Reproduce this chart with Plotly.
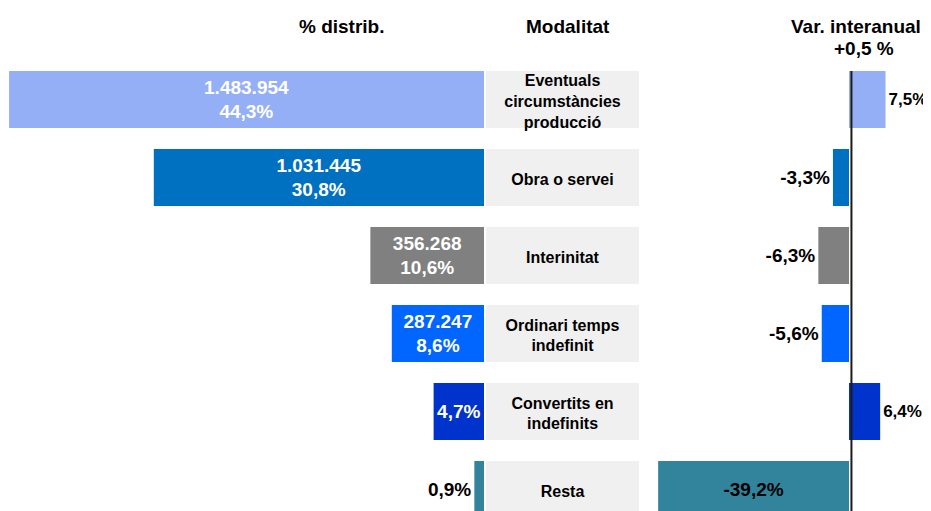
import plotly.graph_objects as go

# Data
modalities = ["Eventuals<br>circumstàncies<br>producció", "Obra o servei", "Interinitat",
              "Ordinari temps<br>indefinit", "Convertits en<br>indefinits", "Resta"]
contracts = [1483954, 1031445, 356268, 287247, None, None]
share_pct = [44.3, 30.8, 10.6, 8.6, 4.7, 0.9]
var_pct = [7.5, -3.3, -6.3, -5.6, 6.4, -39.2]
total_var = 0.5

colors = ["#95AFF7", "#0070C0", "#808080", "#0066FF", "#0033CC", "#31849B"]

FONT = "Liberation Sans, Arial, sans-serif"
BAR_W = 0.73
LABEL_DY = 0.045  # nudge label text to the visual centre of the grey box
rows = list(range(len(modalities)))
Y_RANGE = [5.276, -0.506]


def pct(v):
    return f"{v:.1f}".replace(".", ",") + "%"


def thousands(n):
    return f"{n:,}".replace(",", ".")


left_text = []
for n, s in zip(contracts, share_pct):
    left_text.append(f"{thousands(n)}<br>{pct(s)}" if n else pct(s))

left_pos = ["inside" if s > 2 else "outside" for s in share_pct]
right_pos = ["inside" if abs(v) > 20 else "outside" for v in var_pct]
# positive labels sit against the right edge of the page, keep them a touch smaller
right_sizes = [17 if v > 0 else 19 for v in var_pct]

fig = go.Figure()

# Left: distribution share (bars grow to the left)
fig.add_trace(go.Bar(
    x=share_pct, y=rows, orientation="h", width=BAR_W,
    marker=dict(color=colors, line_width=0),
    text=left_text, textposition=left_pos, insidetextanchor="middle",
    insidetextfont=dict(color="white", size=19, family=FONT, weight="bold"),
    outsidetextfont=dict(color="black", size=19, family=FONT, weight="bold"),
    cliponaxis=False, hoverinfo="skip",
    xaxis="x", yaxis="y",
))

# Middle: grey label boxes
fig.add_trace(go.Bar(
    x=[1] * len(rows), y=rows, orientation="h", width=BAR_W,
    marker=dict(color="#F0F0F0", line_width=0),
    hoverinfo="skip", xaxis="x2", yaxis="y",
))
fig.add_trace(go.Scatter(
    x=[0.5] * len(rows), y=[r + LABEL_DY for r in rows], mode="text", text=modalities,
    textposition="middle center",
    textfont=dict(color="black", size=16, family=FONT, weight="bold"),
    hoverinfo="skip", xaxis="x2", yaxis="y",
))

# Right: year-on-year variation
fig.add_trace(go.Bar(
    x=var_pct, y=rows, orientation="h", width=BAR_W,
    marker=dict(color=colors, line_width=0),
    text=[pct(v) for v in var_pct], textposition=right_pos, insidetextanchor="middle",
    insidetextfont=dict(color="black", size=19, family=FONT, weight="bold"),
    outsidetextfont=dict(color="black", size=right_sizes, family=FONT, weight="bold"),
    cliponaxis=False, hoverinfo="skip",
    xaxis="x3", yaxis="y",
))

# reference line at total variation
fig.add_shape(type="line", xref="x3", yref="y",
              x0=total_var, x1=total_var, y0=-BAR_W / 2, y1=Y_RANGE[0],
              line=dict(color="#1E1A16", width=2))

# page body has an 8px margin, so the visible figure is 923x503
W, H, TOP = 923, 503, 52
hidden = dict(visible=False, showgrid=False, zeroline=False, fixedrange=True)
fig.update_layout(
    width=W, height=H,
    margin=dict(l=0, r=0, t=TOP, b=0),
    paper_bgcolor="white", plot_bgcolor="white",
    showlegend=False,
    font=dict(family=FONT, color="black"),
    xaxis=dict(domain=[0, 476 / W], range=[44.4, 0], **hidden),
    xaxis2=dict(domain=[478 / W, 631 / W], range=[0, 1], anchor="y", **hidden),
    xaxis3=dict(domain=[637 / W, 1], range=[-41.9, 16.84], anchor="y", **hidden),
    yaxis=dict(range=Y_RANGE, **hidden),
)

PH = H - TOP
head = dict(xref="paper", yref="paper", showarrow=False,
            xanchor="center", yanchor="middle",
            font=dict(size=19, family=FONT, color="black", weight="bold"))
fig.add_annotation(text="% distrib.", x=334 / W, y=1 + 33 / PH, **head)
fig.add_annotation(text="Modalitat", x=560 / W, y=1 + 33 / PH, **head)
fig.add_annotation(text="Var. interanual", x=848 / W, y=1 + 33 / PH, **head)
fig.add_annotation(text="+" + f"{total_var:.1f}".replace(".", ",") + " %",
                   x=856 / W, y=1 + 12 / PH, **head)

fig.write_html("out.html")
